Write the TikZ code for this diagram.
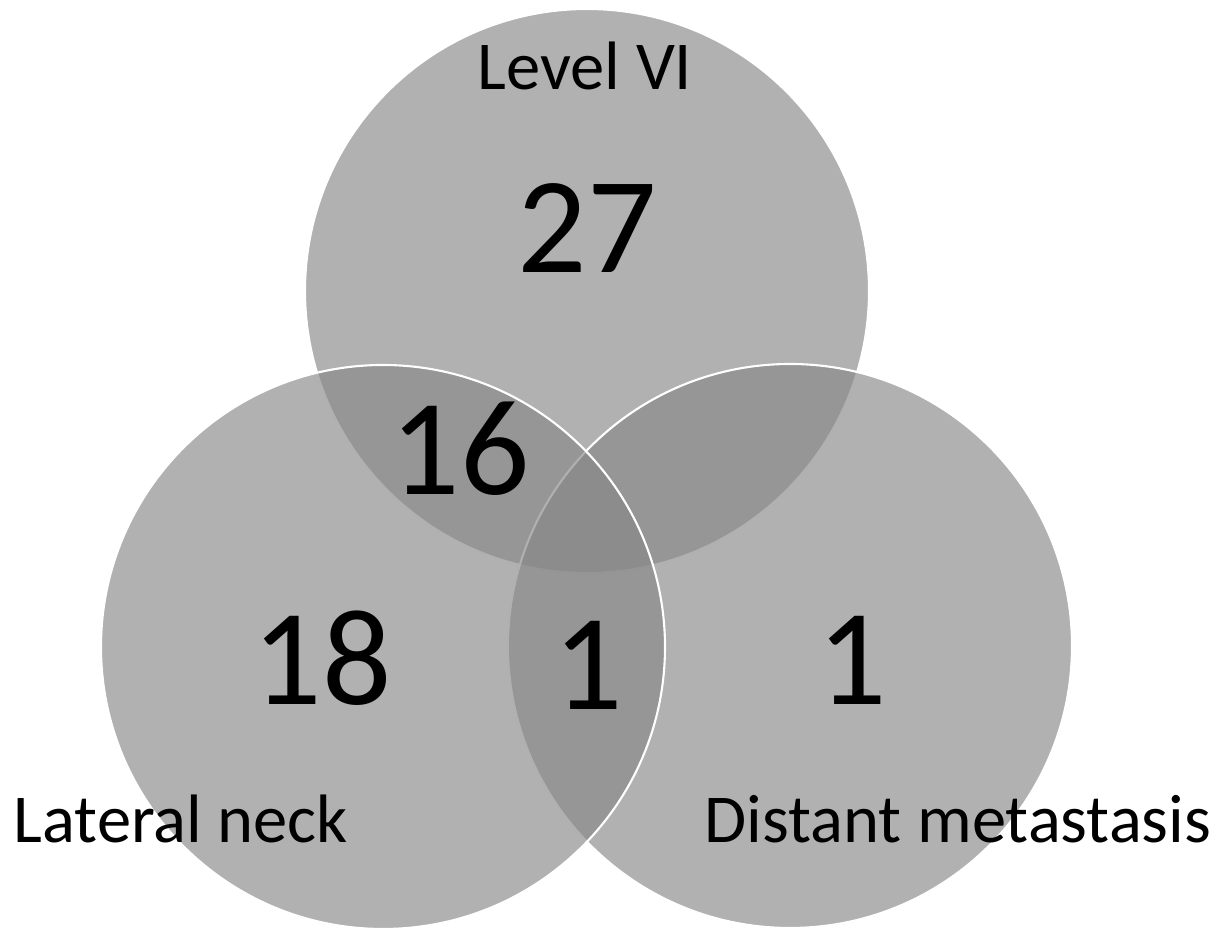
\documentclass[tikz,border=0pt]{standalone}
\usepackage{fontspec}
\setmainfont{Carlito}
\definecolor{setgray}{RGB}{135,135,135}

\begin{document}
\begin{tikzpicture}[scale = 1,
    setcirc/.style = {fill=setgray, fill opacity=0.65, draw=white, line width=0.6pt},
    count/.style = {font=\fontsize{39}{39}\selectfont, anchor=base, inner sep=0pt},
    setname/.style = {font=\fontsize{19.5}{19.5}\selectfont, anchor=base, inner sep=0pt}]

    % fix the page size
    \useasboundingbox (0,0) rectangle (12.29,9.30);

    % centres of the three sets
    \coordinate (VI) at (5.87,6.39);
    \coordinate (LN) at (3.83,2.83);
    \coordinate (DM) at (7.90,2.84);

    % Draw the circles (top, right, left)
    \filldraw[setcirc] (VI) circle (2.82);
    \filldraw[setcirc] (DM) circle (2.82);
    \filldraw[setcirc] (LN) circle (2.82);

    % set names
    \node[setname] (nVI) at (5.85,8.40) {Level VI};
    \node[setname] (nLN) at (1.81,0.87) {Lateral neck};
    \node[setname] (nDM) at (9.58,0.87) {Distant metastasis};

    % counts in each region
    \node[count] (cVI) at (5.87,6.57) {27};
    \node[count] (cVILN) at (4.60,4.35) {16};
    \node[count] (cLN) at (3.22,2.25) {18};
    \node[count] (cLNDM) at (5.88,2.20) {1};
    \node[count] (cDM) at (8.52,2.25) {1};

\end{tikzpicture}
\end{document}
